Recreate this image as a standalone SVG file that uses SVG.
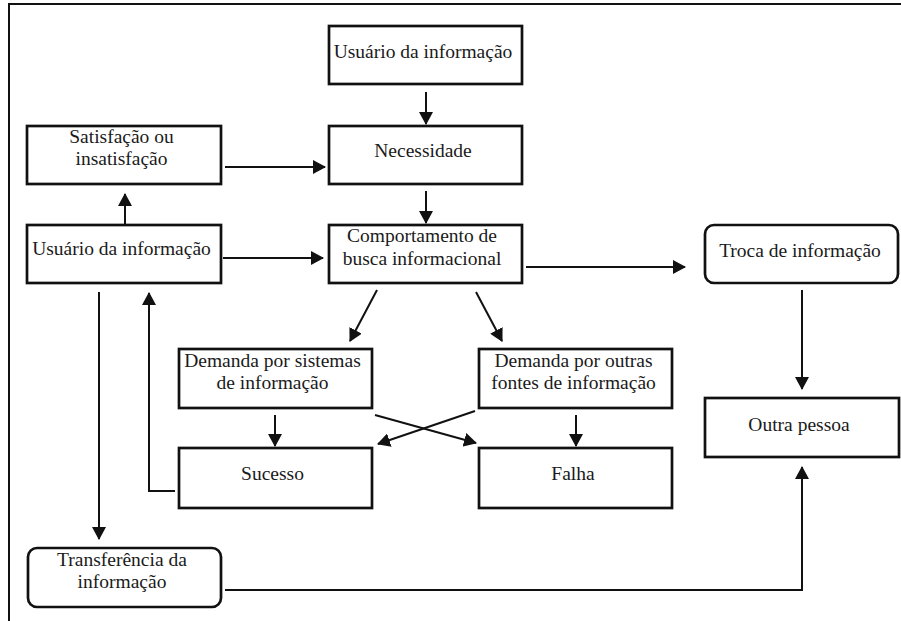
<svg xmlns="http://www.w3.org/2000/svg" width="901" height="621" viewBox="0 0 901 621">
<style>
.box{fill:#fff;stroke:#111;stroke-width:2.7}
.t{font-family:"Liberation Serif","Times New Roman",serif;font-size:19.5px;fill:#1a1a1a;text-anchor:middle}
.c{fill:none;stroke:#111;stroke-width:2}
.ca{fill:none;stroke:#111;stroke-width:2;marker-end:url(#ah)}
</style>
<defs>
<marker id="ah" viewBox="0 0 13 14" refX="12" refY="7" markerWidth="13" markerHeight="14" markerUnits="userSpaceOnUse" orient="auto">
<path d="M0,0 L13,7 L0,14 Z" fill="#111"/>
</marker>
</defs>
<rect width="901" height="621" fill="#fff"/>
<path d="M9,621 V4 H901" fill="none" stroke="#111" stroke-width="2"/>

<g id="connectors">
<line class="ca" x1="426" y1="92" x2="426" y2="124"/>
<line class="ca" x1="426" y1="191" x2="426" y2="223"/>
<line class="ca" x1="225" y1="167" x2="325" y2="167"/>
<line class="ca" x1="223" y1="258" x2="323" y2="258"/>
<line class="ca" x1="125" y1="224" x2="125" y2="194"/>
<line class="ca" x1="526" y1="267" x2="685" y2="267"/>
<line class="ca" x1="377" y1="290" x2="350" y2="341"/>
<line class="ca" x1="476" y1="292" x2="502" y2="341"/>
<line class="ca" x1="275" y1="415" x2="275" y2="446"/>
<line class="ca" x1="576" y1="415" x2="576" y2="446"/>
<line class="ca" x1="375" y1="415" x2="476" y2="443"/>
<line class="ca" x1="475" y1="411" x2="378" y2="444"/>
<polyline class="ca" points="175,491 149,491 149,293"/>
<line class="ca" x1="99" y1="292" x2="99" y2="539"/>
<polyline class="ca" points="225,590 802,590 802,467"/>
<line class="ca" x1="802" y1="290" x2="802" y2="389"/>
</g>

<g id="usuario-top">
<rect class="box" x="329" y="26" width="193" height="58"/>
<text class="t" x="423" y="58">Usuário da informação</text>
</g>
<g id="necessidade">
<rect class="box" x="329" y="126" width="193" height="58"/>
<text class="t" x="423" y="157">Necessidade</text>
</g>
<g id="comportamento">
<rect class="box" x="329" y="225" width="193" height="58"/>
<text class="t" x="422" y="242">Comportamento de</text>
<text class="t" x="422" y="265">busca informacional</text>
</g>
<g id="satisfacao">
<rect class="box" x="27" y="126" width="194" height="58"/>
<text class="t" x="121.5" y="143">Satisfação ou</text>
<text class="t" x="121.5" y="165">insatisfação</text>
</g>
<g id="usuario-left">
<rect class="box" x="27" y="225" width="194" height="58"/>
<text class="t" x="121.5" y="255">Usuário da informação</text>
</g>
<g id="troca">
<rect class="box" x="705" y="225" width="193" height="58" rx="9"/>
<text class="t" x="800" y="257">Troca de informação</text>
</g>
<g id="demanda-sistemas">
<rect class="box" x="179" y="349" width="193" height="59"/>
<text class="t" x="272.5" y="367">Demanda por sistemas</text>
<text class="t" x="272.5" y="389">de informação</text>
</g>
<g id="demanda-outras">
<rect class="box" x="479" y="349" width="193" height="59"/>
<text class="t" x="573.5" y="367">Demanda por outras</text>
<text class="t" x="573.5" y="389">fontes de informação</text>
</g>
<g id="sucesso">
<rect class="box" x="179" y="448" width="193" height="60"/>
<text class="t" x="272.5" y="480">Sucesso</text>
</g>
<g id="falha">
<rect class="box" x="479" y="448" width="193" height="60"/>
<text class="t" x="573" y="480">Falha</text>
</g>
<g id="outra-pessoa">
<rect class="box" x="705" y="398" width="194" height="59"/>
<text class="t" x="799" y="431">Outra pessoa</text>
</g>
<g id="transferencia">
<rect class="box" x="28" y="548" width="193" height="59" rx="9"/>
<text class="t" x="122" y="566">Transferência da</text>
<text class="t" x="122" y="588">informação</text>
</g>
</svg>
